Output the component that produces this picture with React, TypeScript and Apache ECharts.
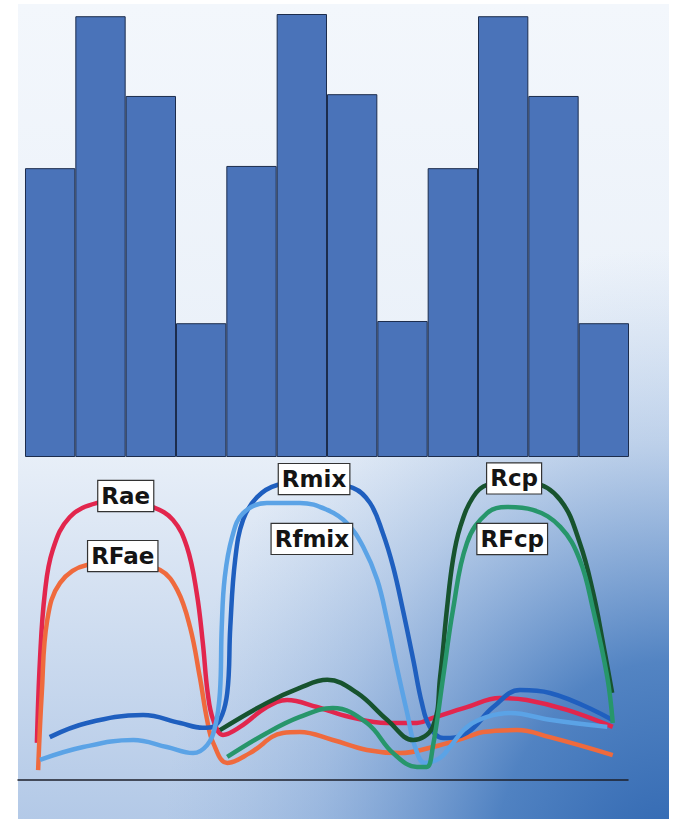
import React, { useEffect, useRef } from "react";
import * as echarts from "echarts";

// ---- Bars (top panel) ----
const barCategories = ["1", "2", "3", "4", "5", "6", "7", "8", "9", "10", "11", "12"];
const barValues = [65.2, 99.5, 81.5, 30.2, 65.7, 100, 81.9, 30.7, 65.2, 99.5, 81.5, 30.2];

// ---- Curves (bottom panel), [time, level] ----
const rae: number[][] = [
  [3.1, 11.6], [3.6, 37.5], [4.4, 58.4], [5.7, 71.9], [8.5, 82.2], [13.0, 86.6], [17.5, 87.5],
  [22.1, 85.3], [25.4, 81.3], [27.7, 72.8], [29.3, 58.4], [30.3, 42.8], [31.1, 27.2], [32.0, 18.8],
  [33.6, 14.1], [36.4, 16.6], [40.8, 22.8], [44.1, 25.0], [49.0, 22.8], [54.4, 19.7], [60.5, 17.8],
  [65.4, 17.8], [68.0, 19.4], [73.6, 22.8], [79.0, 25.6], [83.4, 25.0], [90.0, 21.9], [97.5, 16.6],
];
const rfae: number[][] = [
  [3.3, 3.1], [3.9, 27.2], [4.8, 50.0], [6.9, 61.6], [11.3, 67.2], [17.5, 68.1], [23.3, 65.6],
  [26.1, 59.4], [28.2, 47.8], [29.8, 32.2], [31.0, 18.8], [32.0, 11.6], [34.3, 5.3], [38.0, 8.4],
  [43.4, 14.7], [46.2, 15.0], [51.6, 12.5], [57.2, 9.4], [62.6, 8.4], [68.0, 10.3], [73.6, 13.4],
  [76.2, 15.0], [81.8, 15.6], [87.2, 13.4], [97.5, 7.8],
];
const rmix: number[][] = [
  [5.2, 13.4], [11.3, 17.8], [20.5, 20.3], [26.6, 17.8], [30.3, 16.3], [32.0, 16.6], [34.3, 27.2],
  [34.8, 47.8], [35.6, 68.8], [36.9, 81.3], [39.2, 88.4], [42.5, 92.2], [48.7, 93.4], [54.9, 91.3],
  [57.7, 86.6], [59.8, 77.2], [61.5, 66.6], [63.1, 53.1], [64.8, 37.5], [66.2, 24.1], [67.5, 16.6],
  [69.7, 13.1], [73.6, 14.7], [77.9, 22.8], [82.3, 28.1], [87.2, 27.2], [97.4, 18.8],
];
const rfmix: number[][] = [
  [3.6, 6.3], [10.7, 10.3], [18.9, 12.5], [24.4, 10.3], [28.7, 8.4], [31.0, 10.9], [32.3, 16.6],
  [33.1, 27.2], [33.4, 47.8], [33.9, 63.4], [35.1, 75.9], [36.9, 83.4], [40.8, 86.6], [46.2, 86.6],
  [50.7, 84.4], [53.9, 80.3], [56.6, 72.8], [58.9, 62.5], [60.5, 50.0], [62.1, 35.3], [63.8, 20.9],
  [65.1, 10.3], [66.7, 5.3], [69.2, 6.9], [70.8, 10.3], [73.6, 16.6], [76.9, 19.7], [80.7, 20.9],
  [87.2, 18.8], [96.6, 16.6],
];
const rcp: number[][] = [
  [33.1, 15.6], [40.8, 24.1], [46.2, 28.8], [50.7, 31.3], [55.6, 27.2], [60.5, 18.8], [64.8, 12.5],
  [68.0, 16.6], [69.2, 32.2], [70.3, 53.1], [71.3, 68.8], [72.5, 79.1], [74.6, 88.4], [76.9, 92.2],
  [81.0, 93.0], [84.4, 92.8], [88.9, 87.5], [92.1, 74.1], [94.3, 58.4], [95.9, 42.8], [97.4, 27.2],
];
const rfcp: number[][] = [
  [34.3, 7.2], [40.8, 14.7], [46.2, 19.7], [51.6, 22.5], [57.2, 17.8], [61.5, 8.4], [65.4, 4.1],
  [67.0, 4.1], [68.0, 10.3], [69.7, 32.2], [71.3, 53.1], [73.6, 74.1], [76.9, 83.4], [80.2, 85.3],
  [84.4, 84.4], [88.9, 79.1], [92.1, 68.8], [94.3, 53.1], [96.6, 32.2], [97.5, 17.8],
];

const curveNames = ["Rae", "RFae", "Rmix", "Rfmix", "Rcp", "RFcp"];
const curveData = [rae, rfae, rmix, rfmix, rcp, rfcp];
const curveColors = ["#e2264d", "#ef6a3d", "#1f5fbf", "#5ba3e6", "#17532e", "#27966b"];
const labelOffsets = [[1, -4], [-2, -6], [-1, -2], [45, 36], [2, -4], [5, 32]];

function peak(d: number[][]) {
  let best = d[0];
  for (const p of d) if (p[1] > best[1]) best = p;
  return best;
}

export default function App() {
  const ref = useRef<HTMLDivElement>(null);
  useEffect(() => {
    if (!ref.current) return;
    const chart = echarts.init(ref.current, undefined, { renderer: "svg" });
    const lineSeries = curveData.map((d, i) => ({
      type: "line",
      name: curveNames[i],
      xAxisIndex: 1,
      yAxisIndex: 1,
      data: d,
      smooth: 0.4,
      symbol: "none",
      silent: true,
      lineStyle: { color: curveColors[i], width: 4.5 },
      markPoint: {
        symbol: "circle",
        symbolSize: 1,
        silent: true,
        itemStyle: { color: "rgba(0,0,0,0)" },
        label: {
          show: true,
          position: "inside",
          offset: labelOffsets[i],
          formatter: () => curveNames[i],
          fontFamily: "DejaVu Sans",
          fontWeight: "bold",
          fontSize: 23,
          lineHeight: 27,
          color: "#141414",
          backgroundColor: "#ffffff",
          borderColor: "#333333",
          borderWidth: 1.2,
          padding: [2, 3, 1, 3],
        },
        data: [{ coord: peak(d) }],
      },
    }));

    chart.setOption({
      animation: false,
      backgroundColor: "#ffffff",
      graphic: [
        {
          type: "rect",
          z: -10,
          silent: true,
          shape: { x: 18, y: 4, width: 651, height: 815 },
          style: {
            fill: {
              type: "linear", x: 0, y: 0, x2: 0, y2: 1,
              colorStops: [
                { offset: 0, color: "#f3f7fc" },
                { offset: 0.55, color: "#e8eff8" },
                { offset: 1, color: "#b3c9e7" },
              ],
            },
          },
        },
        {
          type: "rect",
          z: -9,
          silent: true,
          shape: { x: 18, y: 4, width: 651, height: 815 },
          style: {
            fill: {
              type: "radial", x: 1, y: 1.08, r: 0.78,
              colorStops: [
                { offset: 0, color: "rgba(45,100,175,1)" },
                { offset: 0.35, color: "rgba(62,117,187,0.85)" },
                { offset: 0.7, color: "rgba(100,145,205,0.32)" },
                { offset: 1, color: "rgba(140,175,220,0)" },
              ],
            },
          },
        },
      ],
      grid: [
        { left: 25, right: 44, top: 14, bottom: 362 },
        { left: 18, right: 45, top: 460, bottom: 39 },
      ],
      xAxis: [
        {
          type: "category",
          gridIndex: 0,
          data: barCategories,
          show: false,
          boundaryGap: true,
        },
        {
          type: "value",
          gridIndex: 1,
          min: 0,
          max: 100,
          axisLine: { show: true, lineStyle: { color: "#1c1f2a", width: 1.5 } },
          axisTick: { show: false },
          axisLabel: { show: false },
          splitLine: { show: false },
        },
      ],
      yAxis: [
        { type: "value", gridIndex: 0, min: 0, max: 100, show: false },
        { type: "value", gridIndex: 1, min: 0, max: 100, show: false },
      ],
      series: [
        {
          type: "bar",
          xAxisIndex: 0,
          yAxisIndex: 0,
          data: barValues,
          barWidth: "100%",
          barCategoryGap: 0,
          silent: true,
          itemStyle: { color: "#4a73b9", borderColor: "#1c2c4c", borderWidth: 1 },
        },
        ...lineSeries,
      ],
    });
    return () => chart.dispose();
  }, []);
  return (
    <div
      ref={ref}
      style={{ position: "fixed", left: 0, top: 0, width: 673, height: 819 }}
    />
  );
}
